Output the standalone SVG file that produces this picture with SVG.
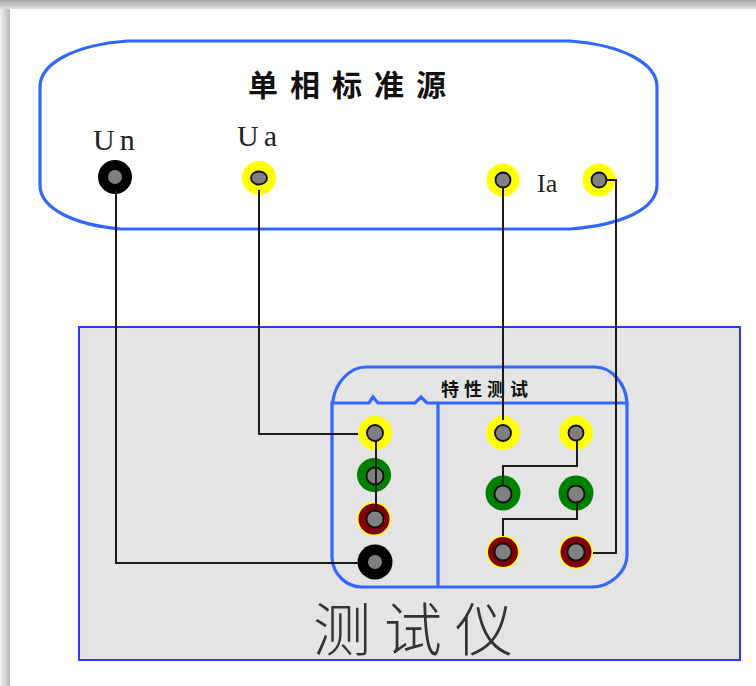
<svg xmlns="http://www.w3.org/2000/svg" width="756" height="686" viewBox="0 0 756 686">
<style>
.blue{fill:none;stroke:#3366ff;stroke-width:3.2}
.wire{fill:none;stroke:#1a1a1a;stroke-width:2}
.hub{fill:#808080;stroke:#111;stroke-width:1.8}
.lat{font-family:"Liberation Serif",serif;fill:#222}
.cjk{font-family:"Noto Sans CJK SC",sans-serif;fill:#111}
</style>
<defs>
<linearGradient id="st" x1="0" y1="0" x2="0" y2="1"><stop offset="0" stop-color="#a8a8a8"/><stop offset="1" stop-color="#dedede"/></linearGradient>
<linearGradient id="sl" x1="0" y1="0" x2="1" y2="0"><stop offset="0" stop-color="#f0f0f0"/><stop offset="1" stop-color="#b8b8b8"/></linearGradient>
</defs>
<rect width="756" height="686" fill="#fff"/>
<rect x="0" y="0" width="756" height="9" fill="url(#st)"/>
<rect x="0" y="9" width="10" height="677" fill="url(#sl)"/>
<g id="source">
<path class="blue" d="M127 41H570C622 45 657 63 657 87V185C657 209 622 225 570 229H121C75 225 40 209 40 185V87C40 63 75 45 127 41Z"/>
<text class="cjk" x="248" y="96" font-size="30" font-weight="700" letter-spacing="12">单相标准源</text>
<text class="lat" x="93" y="150" font-size="30" letter-spacing="5">Un</text>
<text class="lat" x="237" y="146" font-size="30" letter-spacing="5">Ua</text>
<text class="lat" x="537" y="192" font-size="26">Ia</text>
</g>
<g id="tester">
<rect x="79" y="327" width="661" height="333" fill="#e4e4e4" stroke="#3333ff" stroke-width="2"/>
<text class="cjk" x="313" y="651" font-size="58" font-weight="300" letter-spacing="13" style="fill:#333">测试仪</text>
</g>
<g id="panel">
<path class="blue" d="M333 403V400C336 382 350 367 366 367H595C612 367 626 384 627 403V555C627 572 610 587 592 587H362C346 587 333 574 332 558V403H369L373 397L378 403H415L421 397L427 403H627M438 403V587"/>
<text class="cjk" x="441" y="396" font-size="18" font-weight="700" letter-spacing="5">特性测试</text>
</g>
<g id="t-un"><circle cx="115" cy="177" r="17" fill="#000"/><circle cx="115" cy="177" r="7" fill="#808080"/></g>
<g id="t-ua"><circle cx="259" cy="178" r="17" fill="#ffff00"/><ellipse class="hub" cx="259" cy="178" rx="8" ry="6.5"/></g>
<g id="t-ia1"><circle cx="503" cy="180" r="16.5" fill="#ffff00"/><circle class="hub" cx="503" cy="180" r="7.5"/></g>
<g id="t-ia2"><circle cx="599" cy="180" r="16.5" fill="#ffff00"/><circle class="hub" cx="599" cy="180" r="7.5"/></g>
<g id="l-yellow"><circle cx="375" cy="433" r="17" fill="#ffff00"/><circle class="hub" cx="375" cy="433" r="8"/></g>
<g id="l-green"><circle cx="374" cy="475" r="17" fill="#008000"/><circle class="hub" cx="375" cy="476" r="8.5"/></g>
<g id="l-red"><circle cx="374" cy="519" r="17" fill="#ffff00"/><circle cx="374" cy="519" r="15.5" fill="#800000"/><circle class="hub" cx="375" cy="519" r="8.5"/></g>
<g id="l-black"><circle cx="375" cy="562" r="17.5" fill="#000"/><circle cx="375" cy="562" r="7" fill="#808080"/></g>
<g id="r-yellow1"><circle cx="503" cy="433" r="17" fill="#ffff00"/><circle class="hub" cx="503" cy="433" r="8"/></g>
<g id="r-yellow2"><circle cx="576" cy="433" r="17" fill="#ffff00"/><circle class="hub" cx="576" cy="433" r="7.5"/></g>
<g id="r-green1"><circle cx="503" cy="493" r="17.5" fill="#008000"/><circle class="hub" cx="503" cy="494" r="8.5"/></g>
<g id="r-green2"><circle cx="576" cy="493" r="17.5" fill="#008000"/><circle class="hub" cx="576" cy="494" r="8.5"/></g>
<g id="r-red1"><circle cx="503" cy="552" r="16.5" fill="#ffff00"/><circle cx="503" cy="552" r="15" fill="#800000"/><circle class="hub" cx="503" cy="552" r="8.5"/></g>
<g id="r-red2"><circle cx="576" cy="552" r="17" fill="#ffff00"/><circle cx="576" cy="552" r="15.5" fill="#800000"/><circle class="hub" cx="576" cy="552" r="8.5"/></g>
<g id="connectors">
<path class="wire" d="M116 190V563H358"/>
<path class="wire" d="M259 190V434H358"/>
<path class="wire" d="M503 187V420"/>
<path class="wire" d="M606 180H616V553H593"/>
<path class="wire" d="M376 440V512"/>
<path class="wire" d="M577 441V466H503V486"/>
<path class="wire" d="M577 501V519H503V536"/>
</g>
</svg>
